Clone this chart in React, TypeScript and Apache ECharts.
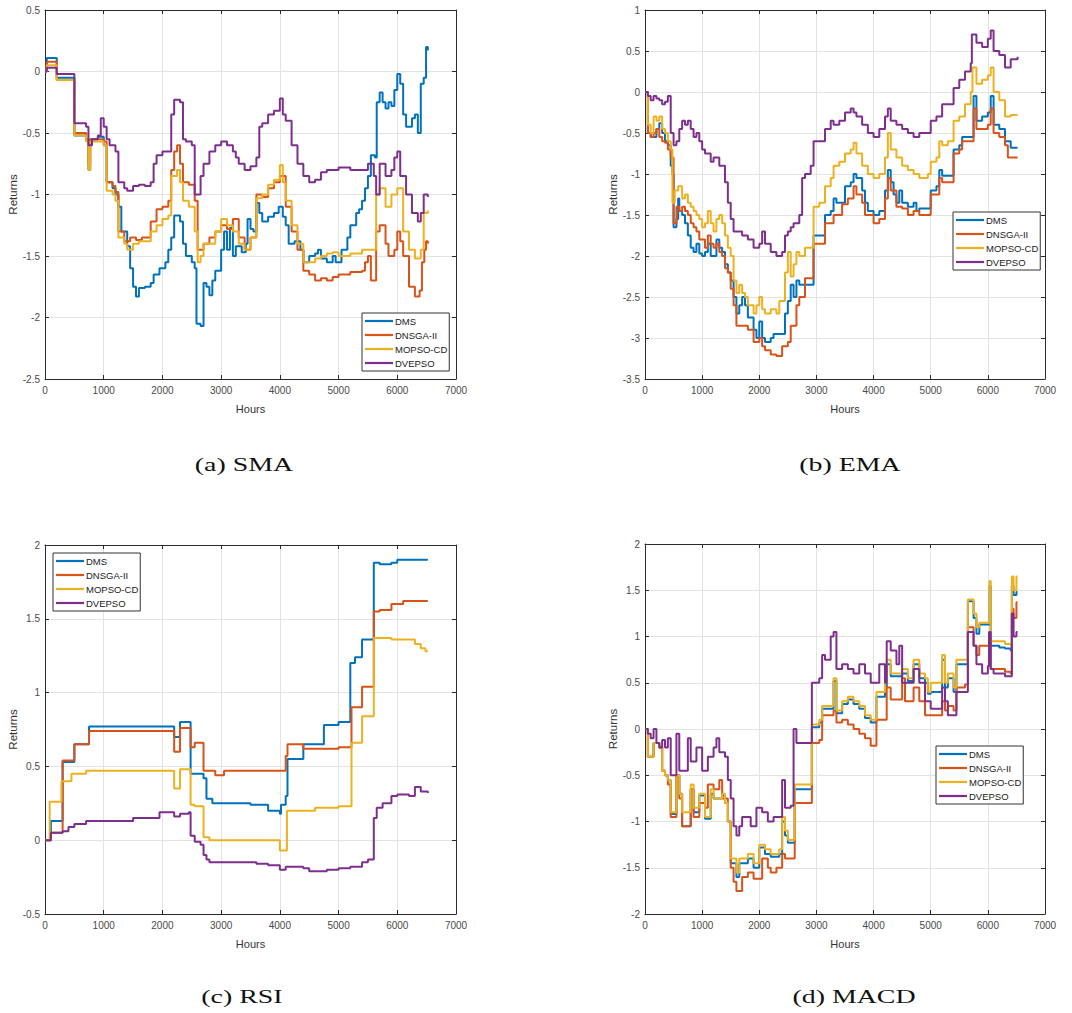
import React, { useEffect, useRef } from "react";
import * as echarts from "echarts";

// ---- Method names and colours ----
const methods = ["DMS", "DNSGA-II", "MOPSO-CD", "DVEPSO"];
const methodColors = ["#0072BD", "#D95319", "#EDB120", "#7E2F8E"];

// ---- (a) SMA : [hour, return] ----
const smaDMS: [number, number][] = [[0,0],[30,0.11],[200,-0.05],[500,-0.52],[700,-0.56],[740,-0.8],[770,-0.55],[900,-0.53],[1000,-0.6],[1050,-0.9],[1150,-0.95],[1200,-1.0],[1250,-1.1],[1300,-1.3],[1400,-1.42],[1450,-1.6],[1500,-1.75],[1550,-1.83],[1600,-1.76],[1700,-1.75],[1800,-1.72],[1850,-1.65],[1950,-1.6],[2050,-1.55],[2100,-1.45],[2150,-1.35],[2200,-1.17],[2300,-1.22],[2350,-1.4],[2400,-1.5],[2500,-1.55],[2550,-1.6],[2580,-2.05],[2650,-2.07],[2700,-1.72],[2750,-1.75],[2800,-1.82],[2850,-1.7],[2900,-1.62],[3000,-1.45],[3050,-1.3],[3100,-1.45],[3150,-1.27],[3200,-1.5],[3250,-1.42],[3350,-1.47],[3420,-1.4],[3450,-1.2],[3500,-1.28],[3550,-1.3],[3600,-1.07],[3650,-1.15],[3700,-1.22],[3800,-1.18],[3900,-1.15],[3980,-1.1],[4050,-1.18],[4100,-1.25],[4150,-1.4],[4250,-1.38],[4350,-1.45],[4400,-1.55],[4500,-1.5],[4600,-1.48],[4650,-1.45],[4700,-1.52],[4800,-1.55],[4900,-1.5],[4950,-1.55],[5050,-1.45],[5150,-1.35],[5200,-1.25],[5300,-1.15],[5350,-1.12],[5400,-1.05],[5450,-0.95],[5500,-0.85],[5550,-0.68],[5620,-0.7],[5650,-0.25],[5700,-0.17],[5750,-0.25],[5800,-0.3],[5850,-0.25],[5900,-0.28],[5950,-0.15],[6000,-0.02],[6050,-0.1],[6100,-0.35],[6150,-0.45],[6250,-0.38],[6300,-0.35],[6350,-0.5],[6400,-0.1],[6450,-0.05],[6490,0.2],[6520,0.17]];
const smaDNSGA: [number, number][] = [[0,0],[30,0.08],[200,-0.07],[500,-0.5],[700,-0.55],[740,-0.75],[770,-0.55],[950,-0.55],[1000,-0.57],[1050,-0.9],[1150,-0.93],[1200,-0.98],[1250,-1.3],[1350,-1.38],[1450,-1.35],[1550,-1.37],[1650,-1.35],[1800,-1.22],[1900,-1.12],[2000,-1.1],[2100,-1.05],[2150,-0.8],[2200,-0.65],[2250,-0.6],[2300,-0.75],[2350,-0.9],[2450,-0.92],[2550,-1.05],[2600,-1.45],[2700,-1.4],[2800,-1.35],[2900,-1.3],[3000,-1.25],[3100,-1.28],[3200,-1.2],[3300,-1.35],[3400,-1.45],[3500,-1.35],[3600,-1.0],[3700,-1.02],[3800,-0.95],[3900,-0.9],[4000,-0.85],[4100,-1.1],[4200,-1.3],[4300,-1.45],[4400,-1.62],[4500,-1.65],[4600,-1.7],[4700,-1.68],[4800,-1.7],[4900,-1.67],[5000,-1.65],[5200,-1.63],[5400,-1.62],[5450,-1.55],[5500,-1.5],[5550,-1.7],[5640,-1.3],[5700,-1.25],[5800,-1.4],[5850,-1.5],[5950,-1.45],[6000,-1.3],[6050,-1.38],[6100,-1.5],[6200,-1.75],[6300,-1.83],[6380,-1.78],[6420,-1.55],[6460,-1.45],[6490,-1.38],[6520,-1.4]];
const smaMOPSO: [number, number][] = [[0,0],[30,0.05],[200,-0.07],[500,-0.52],[700,-0.57],[740,-0.8],[770,-0.57],[950,-0.57],[1000,-0.6],[1050,-0.97],[1150,-1.0],[1200,-1.05],[1250,-1.35],[1350,-1.4],[1400,-1.45],[1500,-1.4],[1600,-1.38],[1800,-1.3],[1900,-1.25],[2000,-1.2],[2100,-1.17],[2150,-0.85],[2250,-0.8],[2300,-0.9],[2350,-1.05],[2450,-1.1],[2550,-1.3],[2600,-1.55],[2650,-1.5],[2700,-1.4],[2800,-1.4],[2900,-1.3],[3000,-1.2],[3100,-1.25],[3200,-1.3],[3300,-1.4],[3400,-1.45],[3500,-1.35],[3600,-1.03],[3700,-1.0],[3800,-0.92],[3900,-0.88],[4000,-0.76],[4050,-0.9],[4100,-1.05],[4200,-1.25],[4300,-1.4],[4400,-1.55],[4500,-1.55],[4600,-1.52],[4700,-1.5],[4800,-1.48],[4900,-1.47],[5000,-1.5],[5200,-1.48],[5400,-1.45],[5600,-1.45],[5640,-1.0],[5700,-0.95],[5800,-1.1],[5900,-1.0],[6000,-0.95],[6100,-1.3],[6200,-1.45],[6300,-1.52],[6400,-1.45],[6450,-1.15],[6520,-1.13]];
const smaDVEPSO: [number, number][] = [[0,0],[30,0.03],[200,-0.02],[500,-0.42],[700,-0.45],[740,-0.6],[800,-0.55],[900,-0.52],[950,-0.38],[1000,-0.45],[1050,-0.55],[1100,-0.6],[1200,-0.65],[1250,-0.9],[1350,-0.95],[1400,-0.97],[1500,-0.93],[1600,-0.92],[1700,-0.93],[1800,-0.9],[1850,-0.75],[1900,-0.68],[2000,-0.65],[2100,-0.65],[2150,-0.35],[2200,-0.23],[2300,-0.25],[2350,-0.55],[2400,-0.57],[2500,-0.6],[2550,-1.0],[2650,-0.85],[2700,-0.75],[2800,-0.65],[2900,-0.6],[3000,-0.57],[3100,-0.6],[3200,-0.65],[3250,-0.7],[3300,-0.75],[3400,-0.8],[3500,-0.77],[3600,-0.7],[3650,-0.45],[3700,-0.42],[3800,-0.35],[3900,-0.32],[4000,-0.22],[4050,-0.35],[4100,-0.4],[4200,-0.6],[4300,-0.75],[4400,-0.85],[4500,-0.9],[4600,-0.88],[4700,-0.82],[4800,-0.8],[5000,-0.78],[5200,-0.8],[5400,-0.8],[5500,-0.75],[5600,-0.85],[5640,-1.0],[5700,-0.75],[5800,-0.85],[5900,-0.8],[5950,-0.7],[6000,-0.65],[6050,-0.85],[6150,-1.0],[6250,-1.15],[6350,-1.22],[6400,-1.15],[6450,-1.0],[6520,-1.02]];

// ---- (b) EMA ----
const emaDMS: [number, number][] = [[0,0],[50,-0.5],[100,-0.55],[200,-0.45],[250,-0.38],[300,-0.5],[350,-0.6],[400,-0.65],[450,-0.9],[480,-1.0],[500,-1.65],[550,-1.55],[580,-1.3],[600,-1.45],[650,-1.5],[700,-1.6],[750,-1.75],[800,-1.9],[850,-1.95],[900,-1.85],[950,-1.97],[1000,-2.0],[1050,-1.95],[1100,-1.85],[1150,-2.0],[1250,-1.8],[1300,-1.9],[1350,-1.95],[1400,-2.1],[1450,-2.2],[1500,-2.3],[1550,-2.5],[1600,-2.7],[1650,-2.6],[1700,-2.5],[1750,-2.6],[1800,-2.75],[1900,-2.9],[1950,-3.0],[2000,-2.8],[2050,-3.0],[2100,-3.05],[2200,-3.0],[2250,-2.95],[2400,-2.95],[2450,-2.7],[2500,-2.55],[2550,-2.35],[2600,-2.5],[2650,-2.3],[2700,-2.35],[2950,-1.75],[3100,-1.75],[3150,-1.5],[3250,-1.45],[3300,-1.3],[3350,-1.35],[3500,-1.15],[3600,-1.1],[3650,-1.0],[3700,-1.05],[3800,-1.2],[3850,-1.35],[3900,-1.45],[4000,-1.5],[4100,-1.45],[4200,-1.2],[4250,-0.95],[4300,-1.1],[4350,-1.25],[4400,-1.35],[4450,-1.2],[4500,-1.35],[4600,-1.4],[4700,-1.35],[4750,-1.45],[4800,-1.42],[5000,-1.2],[5100,-1.15],[5150,-0.95],[5200,-1.02],[5400,-0.7],[5500,-0.65],[5550,-0.55],[5750,-0.05],[5800,-0.35],[5900,-0.3],[6000,-0.25],[6050,-0.05],[6100,-0.4],[6200,-0.45],[6300,-0.6],[6400,-0.68],[6520,-0.68]];
const emaDNSGA: [number, number][] = [[0,0],[50,-0.5],[100,-0.55],[150,-0.5],[200,-0.45],[250,-0.55],[300,-0.6],[350,-0.62],[400,-0.7],[450,-0.8],[500,-1.6],[550,-1.4],[600,-1.45],[650,-1.4],[700,-1.45],[750,-1.5],[800,-1.6],[850,-1.65],[900,-1.7],[950,-1.8],[1050,-1.9],[1100,-1.75],[1150,-1.85],[1200,-1.9],[1250,-1.85],[1300,-1.95],[1350,-2.0],[1400,-2.15],[1450,-2.2],[1500,-2.4],[1550,-2.6],[1600,-2.85],[1800,-2.9],[1900,-3.05],[2000,-3.0],[2050,-3.1],[2100,-3.15],[2200,-3.2],[2300,-3.22],[2400,-3.1],[2500,-3.05],[2550,-2.85],[2650,-2.6],[2700,-2.5],[2800,-2.27],[2950,-1.85],[3150,-1.6],[3300,-1.5],[3450,-1.37],[3550,-1.3],[3650,-1.15],[3700,-1.25],[3800,-1.35],[3850,-1.5],[4000,-1.6],[4100,-1.55],[4200,-1.3],[4250,-1.05],[4300,-1.2],[4400,-1.4],[4500,-1.42],[4600,-1.5],[4700,-1.45],[4800,-1.5],[5000,-1.25],[5150,-1.05],[5200,-1.1],[5400,-0.75],[5500,-0.7],[5550,-0.6],[5750,-0.2],[5800,-0.45],[6000,-0.4],[6050,-0.2],[6100,-0.5],[6200,-0.55],[6300,-0.65],[6350,-0.8],[6520,-0.8]];
const emaMOPSO: [number, number][] = [[0,0],[50,-0.4],[100,-0.5],[150,-0.3],[200,-0.35],[250,-0.3],[300,-0.45],[350,-0.5],[400,-0.6],[450,-0.7],[480,-1.35],[520,-1.2],[580,-1.15],[650,-1.3],[700,-1.25],[750,-1.35],[800,-1.4],[850,-1.45],[900,-1.5],[950,-1.55],[1000,-1.65],[1050,-1.6],[1100,-1.45],[1150,-1.6],[1200,-1.7],[1250,-1.55],[1300,-1.5],[1350,-1.6],[1400,-1.75],[1450,-1.9],[1500,-2.0],[1550,-2.3],[1600,-2.45],[1650,-2.35],[1700,-2.45],[1750,-2.5],[1800,-2.6],[1900,-2.7],[1950,-2.6],[2000,-2.5],[2050,-2.65],[2100,-2.7],[2200,-2.65],[2300,-2.7],[2350,-2.55],[2450,-2.2],[2500,-1.95],[2550,-2.25],[2600,-2.1],[2650,-1.95],[2700,-2.0],[2800,-1.9],[2950,-1.4],[3050,-1.35],[3150,-1.15],[3250,-1.05],[3300,-0.9],[3400,-0.85],[3500,-0.75],[3600,-0.7],[3650,-0.62],[3700,-0.75],[3800,-0.9],[3900,-1.0],[4000,-1.05],[4100,-1.0],[4200,-0.8],[4250,-0.5],[4300,-0.7],[4400,-0.8],[4500,-0.9],[4600,-0.95],[4700,-1.0],[4800,-1.05],[4950,-1.0],[5000,-0.85],[5100,-0.8],[5150,-0.6],[5200,-0.65],[5300,-0.6],[5400,-0.35],[5500,-0.3],[5600,-0.15],[5700,0.0],[5730,0.3],[5800,0.1],[5900,0.15],[6000,0.2],[6050,0.3],[6100,0.0],[6200,-0.1],[6300,-0.3],[6400,-0.28],[6520,-0.28]];
const emaDVEPSO: [number, number][] = [[0,0],[50,-0.05],[100,-0.1],[150,-0.05],[200,-0.08],[250,-0.1],[300,-0.15],[350,-0.12],[400,-0.05],[450,-0.5],[500,-0.65],[550,-0.6],[600,-0.45],[650,-0.35],[700,-0.4],[750,-0.35],[800,-0.45],[850,-0.55],[900,-0.5],[950,-0.6],[1000,-0.7],[1050,-0.75],[1150,-0.85],[1200,-0.8],[1300,-0.9],[1400,-1.1],[1450,-1.35],[1500,-1.55],[1550,-1.7],[1700,-1.75],[1800,-1.8],[1900,-1.9],[2000,-1.85],[2050,-1.7],[2100,-1.85],[2200,-1.95],[2300,-2.0],[2400,-1.95],[2450,-1.75],[2500,-1.7],[2550,-1.65],[2600,-1.6],[2700,-1.5],[2750,-1.05],[2800,-1.0],[2900,-0.9],[2950,-0.6],[3150,-0.45],[3250,-0.35],[3300,-0.4],[3400,-0.35],[3500,-0.25],[3600,-0.2],[3650,-0.25],[3700,-0.3],[3800,-0.4],[3900,-0.5],[4000,-0.55],[4100,-0.45],[4200,-0.3],[4250,-0.2],[4300,-0.35],[4400,-0.4],[4500,-0.45],[4600,-0.5],[4700,-0.55],[4800,-0.5],[5000,-0.35],[5100,-0.3],[5200,-0.15],[5400,0.05],[5500,0.15],[5600,0.25],[5700,0.35],[5720,0.7],[5800,0.6],[5900,0.55],[6000,0.65],[6050,0.75],[6100,0.5],[6200,0.45],[6300,0.3],[6400,0.4],[6520,0.43]];

// ---- (c) RSI ----
const rsiDMS: [number, number][] = [[0,0],[100,0.13],[300,0.53],[500,0.65],[750,0.77],[2200,0.7],[2300,0.8],[2480,0.45],[2700,0.42],[2750,0.28],[2850,0.25],[3500,0.24],[3800,0.2],[4000,0.18],[4020,0.24],[4100,0.3],[4130,0.55],[4400,0.65],[4750,0.78],[5000,0.8],[5200,1.2],[5280,1.24],[5400,1.36],[5600,1.88],[5700,1.87],[5900,1.88],[6000,1.9],[6520,1.9]];
const rsiDNSGA: [number, number][] = [[0,0],[100,0.05],[300,0.54],[500,0.65],[750,0.74],[2200,0.6],[2300,0.76],[2480,0.63],[2550,0.66],[2700,0.47],[2900,0.44],[3050,0.47],[4000,0.47],[4100,0.57],[4130,0.65],[4400,0.62],[5000,0.63],[5220,0.9],[5400,1.04],[5600,1.55],[5700,1.56],[5900,1.6],[6100,1.62],[6520,1.62]];
const rsiMOPSO: [number, number][] = [[0,0],[80,0.26],[280,0.4],[450,0.45],[700,0.47],[2200,0.35],[2300,0.48],[2480,0.24],[2550,0.23],[2700,0.02],[2800,0.0],[4000,-0.07],[4120,0.2],[4600,0.22],[5000,0.23],[5220,0.66],[5400,0.84],[5600,1.37],[5900,1.36],[6300,1.33],[6400,1.3],[6480,1.28],[6520,1.28]];
const rsiDVEPSO: [number, number][] = [[0,0],[100,0.05],[300,0.06],[400,0.09],[500,0.11],[700,0.13],[1500,0.15],[1950,0.19],[2200,0.16],[2300,0.18],[2450,0.19],[2480,0.03],[2550,-0.01],[2650,-0.03],[2700,-0.1],[2750,-0.13],[2800,-0.15],[3600,-0.16],[3800,-0.17],[4000,-0.2],[4100,-0.18],[4400,-0.19],[4500,-0.21],[4800,-0.2],[5000,-0.19],[5200,-0.18],[5400,-0.15],[5500,-0.13],[5600,0.15],[5650,0.22],[5750,0.25],[5900,0.3],[6000,0.31],[6200,0.3],[6300,0.36],[6400,0.33],[6520,0.32]];

// ---- (d) MACD ----
const macdDMS: [number, number][] = [[0,0],[50,-0.3],[150,-0.15],[250,-0.2],[300,-0.45],[350,-0.5],[400,-0.55],[450,-0.92],[550,-0.5],[600,-0.7],[650,-1.05],[800,-0.65],[850,-0.9],[950,-0.72],[1050,-0.97],[1150,-0.7],[1200,-0.75],[1350,-0.72],[1400,-0.8],[1450,-1.0],[1500,-1.45],[1600,-1.6],[1650,-1.45],[1800,-1.4],[1900,-1.5],[2000,-1.28],[2100,-1.35],[2200,-1.38],[2350,-1.35],[2400,-1.0],[2450,-1.15],[2500,-1.23],[2620,-0.65],[2920,0.02],[3050,0.07],[3100,0.22],[3300,0.52],[3350,0.17],[3450,0.27],[3550,0.32],[3650,0.27],[3750,0.22],[3850,0.12],[3950,0.07],[4050,0.35],[4200,0.45],[4230,0.7],[4300,0.57],[4500,0.6],[4600,0.52],[4700,0.7],[4800,0.55],[4900,0.5],[4950,0.38],[5000,0.4],[5200,0.75],[5250,0.45],[5300,0.55],[5400,0.4],[5450,0.7],[5650,1.38],[5750,1.2],[5800,1.03],[5850,1.13],[6030,1.55],[6050,0.9],[6200,0.88],[6300,0.87],[6400,0.85],[6420,1.55],[6450,1.45],[6500,1.48],[6520,1.48]];
const macdDNSGA: [number, number][] = [[0,0],[50,-0.3],[150,-0.15],[250,-0.2],[300,-0.45],[350,-0.5],[400,-0.6],[450,-0.95],[550,-0.5],[600,-0.75],[650,-1.05],[800,-0.65],[850,-0.95],[950,-0.8],[1050,-0.85],[1100,-0.6],[1200,-0.65],[1300,-0.55],[1350,-0.75],[1450,-1.0],[1500,-1.5],[1550,-1.65],[1600,-1.75],[1700,-1.6],[1800,-1.55],[1900,-1.62],[2050,-1.4],[2150,-1.5],[2200,-1.55],[2300,-1.5],[2400,-1.35],[2450,-1.4],[2620,-0.8],[2920,-0.15],[3050,-0.12],[3100,0.15],[3300,0.2],[3350,0.07],[3450,0.1],[3550,0.05],[3650,0.0],[3750,-0.05],[3850,-0.1],[3950,-0.18],[4050,0.1],[4230,0.45],[4300,0.32],[4500,0.55],[4550,0.3],[4700,0.45],[4800,0.3],[4900,0.15],[5200,0.3],[5250,0.2],[5300,0.25],[5400,0.2],[5450,0.45],[5600,0.48],[5650,1.1],[5750,0.9],[5800,0.8],[5850,0.9],[6030,1.0],[6050,0.65],[6300,0.62],[6400,0.6],[6420,1.3],[6450,1.2],[6500,1.37],[6520,1.37]];
const macdMOPSO: [number, number][] = [[0,0],[50,-0.3],[150,-0.15],[250,-0.2],[300,-0.45],[350,-0.5],[400,-0.55],[450,-0.9],[550,-0.5],[600,-0.7],[650,-0.9],[800,-0.6],[850,-0.85],[950,-0.7],[1050,-0.95],[1150,-0.65],[1200,-0.75],[1350,-0.7],[1400,-0.8],[1450,-1.0],[1500,-1.4],[1600,-1.55],[1650,-1.4],[1800,-1.35],[1900,-1.45],[2000,-1.25],[2100,-1.3],[2200,-1.35],[2350,-1.3],[2400,-0.95],[2450,-1.1],[2500,-1.2],[2620,-0.6],[2920,0.05],[3050,0.1],[3100,0.25],[3300,0.55],[3350,0.2],[3450,0.3],[3550,0.35],[3650,0.3],[3750,0.25],[3850,0.15],[3950,0.1],[4050,0.4],[4200,0.5],[4230,0.75],[4300,0.6],[4500,0.65],[4600,0.55],[4700,0.75],[4800,0.6],[4900,0.55],[4950,0.4],[5000,0.5],[5200,0.8],[5250,0.5],[5300,0.6],[5400,0.45],[5450,0.75],[5650,1.4],[5750,1.25],[5800,1.1],[5850,1.15],[6030,1.6],[6050,0.95],[6300,0.92],[6400,0.9],[6420,1.65],[6450,1.5],[6500,1.65],[6520,1.65]];
const macdDVEPSO: [number, number][] = [[0,0],[50,-0.05],[100,-0.1],[150,0.0],[200,-0.15],[250,-0.2],[300,-0.12],[350,-0.2],[400,-0.1],[450,-0.5],[550,-0.05],[600,-0.45],[750,-0.1],[800,-0.35],[900,-0.2],[1000,-0.45],[1100,-0.3],[1200,-0.2],[1250,-0.1],[1300,-0.25],[1400,-0.3],[1450,-0.55],[1500,-0.75],[1550,-1.05],[1600,-1.15],[1650,-1.05],[1700,-0.95],[1850,-1.05],[1950,-0.85],[2050,-0.9],[2150,-1.0],[2250,-0.95],[2400,-0.55],[2450,-0.85],[2550,-0.83],[2600,0.0],[2650,-0.15],[2920,0.5],[3050,0.55],[3100,0.8],[3150,0.75],[3250,1.0],[3300,1.05],[3350,0.65],[3450,0.7],[3550,0.65],[3650,0.6],[3750,0.7],[3850,0.6],[3950,0.5],[4100,0.7],[4200,0.5],[4230,0.95],[4300,0.85],[4400,0.7],[4450,0.9],[4500,0.5],[4700,0.65],[4800,0.5],[4900,0.3],[5000,0.22],[5200,0.45],[5250,0.3],[5300,0.15],[5450,0.4],[5650,1.05],[5750,0.9],[5800,0.7],[5900,0.6],[6000,0.68],[6020,1.05],[6050,0.65],[6100,0.6],[6300,0.57],[6420,1.25],[6450,1.0],[6500,1.05],[6520,1.05]];

// ---- Axis ranges ----
const hourRange = { min: 0, max: 7000, interval: 1000 };
const returnRanges = [
  { min: -2.5, max: 0.5, interval: 0.5 },
  { min: -3.5, max: 1, interval: 0.5 },
  { min: -0.5, max: 2, interval: 0.5 },
  { min: -2, max: 2, interval: 0.5 },
];
const captions = ["(a) SMA", "(b) EMA", "(c) RSI", "(d) MACD"];
const panelSeries = [
  [smaDMS, smaDNSGA, smaMOPSO, smaDVEPSO],
  [emaDMS, emaDNSGA, emaMOPSO, emaDVEPSO],
  [rsiDMS, rsiDNSGA, rsiMOPSO, rsiDVEPSO],
  [macdDMS, macdDNSGA, macdMOPSO, macdDVEPSO],
];

// ---- Layout (pixels) ----
const gridBoxes = [
  { left: 45, top: 10, width: 411, height: 369 },
  { left: 645, top: 10, width: 400, height: 369 },
  { left: 45, top: 545, width: 411, height: 369 },
  { left: 645, top: 544, width: 400, height: 370 },
];
const legendBoxes = [
  { left: 362, top: 313 },
  { left: 953, top: 212 },
  { left: 53, top: 553 },
  { left: 936, top: 746 },
];
const captionPos = [
  { x: 244, y: 465 },
  { x: 850, y: 465 },
  { x: 242, y: 997 },
  { x: 854, y: 997 },
];

const SANS = "'Liberation Sans', Arial, sans-serif";
const AXIS_COLOR = "#2b2b2b";
const LABEL_COLOR = "#4a4a4a";
const GRID_COLOR = "#e3e3e3";
// thin horizontal bar used as the legend key
const LEGEND_KEY = "path://M0,0H28V2.2H0Z";

function buildOption() {
  const grid: any[] = [];
  const xAxis: any[] = [];
  const yAxis: any[] = [];
  const series: any[] = [];
  const legend: any[] = [];
  const graphic: any[] = [];

  gridBoxes.forEach((box, i) => {
    grid.push({ ...box, show: false });
    const tick = { show: true, inside: true, length: 4, lineStyle: { color: AXIS_COLOR, width: 1 } };
    const line = { show: true, onZero: false, lineStyle: { color: AXIS_COLOR, width: 1 } };
    // bottom hours axis
    xAxis.push({
      gridIndex: i, type: "value", position: "bottom", ...hourRange,
      name: "Hours", nameLocation: "middle", nameGap: 24,
      nameTextStyle: { fontFamily: SANS, fontSize: 11, color: "#333" },
      axisLine: line, axisTick: tick,
      axisLabel: { fontFamily: SANS, fontSize: 10, color: LABEL_COLOR, margin: 6, formatter: (v: number) => String(v) },
      splitLine: { show: true, lineStyle: { color: GRID_COLOR, width: 1 } },
    });
    // top frame
    xAxis.push({
      gridIndex: i, type: "value", position: "top", ...hourRange,
      axisLine: line, axisTick: tick, axisLabel: { show: false }, splitLine: { show: false },
    });
    // left returns axis
    yAxis.push({
      gridIndex: i, type: "value", position: "left", ...returnRanges[i],
      name: "Returns", nameLocation: "middle", nameGap: 24,
      nameTextStyle: { fontFamily: SANS, fontSize: 11.5, color: "#333" },
      axisLine: line, axisTick: tick,
      axisLabel: { fontFamily: SANS, fontSize: 10, color: LABEL_COLOR, margin: 5, formatter: (v: number) => String(v) },
      splitLine: { show: true, lineStyle: { color: GRID_COLOR, width: 1 } },
    });
    // right frame
    yAxis.push({
      gridIndex: i, type: "value", position: "right", ...returnRanges[i],
      axisLine: line, axisTick: tick, axisLabel: { show: false }, splitLine: { show: false },
    });

    panelSeries[i].forEach((data, k) => {
      series.push({
        type: "line",
        name: methods[k],
        xAxisIndex: 2 * i,
        yAxisIndex: 2 * i,
        step: "end",
        symbol: "none",
        showSymbol: false,
        data,
        color: methodColors[k],
        lineStyle: { color: methodColors[k], width: 2 },
        z: 3,
      });
    });

    legend.push({
      data: methods.map((name, k) => ({ name, icon: LEGEND_KEY, itemStyle: { color: methodColors[k], borderWidth: 0 } })),
      orient: "vertical",
      left: legendBoxes[i].left,
      top: legendBoxes[i].top,
      padding: [3, 2, 3, 3],
      itemGap: 4,
      itemWidth: 28,
      itemHeight: 10,
      symbolKeepAspect: true,
      backgroundColor: "#ffffff",
      borderColor: "#333333",
      borderWidth: 1,
      borderRadius: 0,
      selectedMode: false,
      textStyle: { fontFamily: SANS, fontSize: 9.5, color: "#1a1a1a", padding: [0, 0, 0, -3] },
      z: 10,
    });

    graphic.push({
      type: "text",
      x: captionPos[i].x,
      y: captionPos[i].y,
      scaleX: 1.55,
      style: {
        text: captions[i],
        fontFamily: "'Liberation Serif', 'DejaVu Serif', serif",
        fontSize: 18,
        fill: "#111",
        textAlign: "center",
        textVerticalAlign: "middle",
      },
    });
  });

  return {
    animation: false,
    backgroundColor: "#ffffff",
    grid, xAxis, yAxis, series, legend, graphic,
  };
}

export default function App() {
  const ref = useRef<HTMLDivElement>(null);
  useEffect(() => {
    if (!ref.current) return;
    const chart = echarts.init(ref.current, undefined, { renderer: "svg" });
    chart.setOption(buildOption());
    return () => chart.dispose();
  }, []);
  return (
    <div
      ref={ref}
      style={{ position: "absolute", left: 0, top: 0, width: 1072, height: 1013, background: "#fff" }}
    />
  );
}
